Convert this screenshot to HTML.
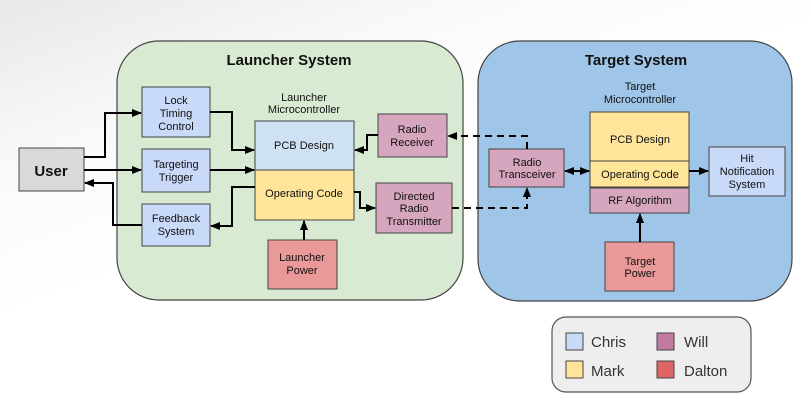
<!DOCTYPE html>
<html><head><meta charset="utf-8"><style>
body{margin:0;width:811px;height:416px;overflow:hidden;background:linear-gradient(160deg,#e8e8e8 0%,#fafafa 25%,#fff 45%);font-family:"Liberation Sans",Arial,sans-serif;}
svg{position:absolute;left:0;top:0}
text{font-family:"Liberation Sans",Arial,sans-serif;fill:#111}
</style></head><body>
<svg width="811" height="416" viewBox="0 0 811 416">
<defs>
<marker id="a" markerWidth="10" markerHeight="10" refX="9" refY="5" orient="auto" markerUnits="userSpaceOnUse"><path d="M0,1 L10,5 L0,9z" fill="#000"/></marker>
<marker id="s" markerWidth="10" markerHeight="10" refX="1" refY="5" orient="auto" markerUnits="userSpaceOnUse"><path d="M10,1 L0,5 L10,9z" fill="#000"/></marker>
</defs>
<rect x="117" y="41" width="346" height="259" rx="42" fill="#d9ead3" stroke="#444" stroke-width="1.2"/>
<rect x="478" y="41" width="314" height="260" rx="42" fill="#9fc5e8" stroke="#444" stroke-width="1.2"/>
<rect x="552" y="317" width="199" height="75" rx="14" fill="#eeeeee" stroke="#555" stroke-width="1.2"/>
<text x="289" y="65" font-size="15" font-weight="bold" text-anchor="middle">Launcher System</text>
<text x="636" y="65" font-size="15" font-weight="bold" text-anchor="middle">Target System</text>
<g stroke="#444" stroke-width="1">
<rect x="19" y="148" width="65" height="43" fill="#d9d9d9"/>
<rect x="142" y="87" width="68" height="50" fill="#c9daf8"/>
<rect x="142" y="149" width="68" height="43" fill="#c9daf8"/>
<rect x="142" y="204" width="68" height="42" fill="#c9daf8"/>
<rect x="255" y="121" width="99" height="49" fill="#cfe2f3"/>
<rect x="255" y="170" width="99" height="50" fill="#ffe599"/>
<rect x="268" y="240" width="69" height="49" fill="#ea9999"/>
<rect x="378" y="114" width="69" height="43" fill="#d5a6bd"/>
<rect x="376" y="183" width="76" height="50" fill="#d5a6bd"/>
<rect x="590" y="112" width="99" height="49" fill="#ffe599"/>
<rect x="590" y="161" width="99" height="26" fill="#ffe599"/>
<rect x="590" y="188" width="99" height="25" fill="#d5a6bd"/>
<rect x="489" y="149" width="75" height="38" fill="#d5a6bd"/>
<rect x="709" y="147" width="76" height="49" fill="#c9daf8"/>
<rect x="605" y="242" width="69" height="49" fill="#ea9999"/>
<rect x="566" y="333" width="17" height="17" fill="#c9daf8"/>
<rect x="566" y="361" width="17" height="17" fill="#ffe599"/>
<rect x="657" y="333" width="17" height="17" fill="#c27ba0"/>
<rect x="657" y="361" width="17" height="17" fill="#e06666"/>
</g>
<g fill="none" stroke="#000" stroke-width="2">
<path d="M84,157 H105 V113 H141" marker-end="url(#a)"/>
<path d="M84,170 H141" marker-end="url(#a)"/>
<path d="M142,225 H113 V183 H85" marker-end="url(#a)"/>
<path d="M210,112 H232 V150 H254" marker-end="url(#a)"/>
<path d="M210,170 H254" marker-end="url(#a)"/>
<path d="M255,187 H232 V226 H211" marker-end="url(#a)"/>
<path d="M378,135 H367 V150 H355" marker-end="url(#a)"/>
<path d="M354,192 H360 V208 H375" marker-end="url(#a)"/>
<path d="M304,240 V221" marker-end="url(#a)"/>
<path d="M565,171 H589" marker-start="url(#s)" marker-end="url(#a)"/>
<path d="M689,171 H708" marker-end="url(#a)"/>
<path d="M640,242 V214" marker-end="url(#a)"/>
<path d="M527,149 V136 H448" stroke-dasharray="7,5" marker-end="url(#a)"/>
<path d="M452,208 H527 V188" stroke-dasharray="7,5" marker-end="url(#a)"/>
</g>
<g font-size="11" text-anchor="middle">
<text x="51" y="176" font-size="15" font-weight="bold">User</text>
<text x="176" y="104">Lock</text><text x="176" y="117">Timing</text><text x="176" y="130">Control</text>
<text x="176" y="168">Targeting</text><text x="176" y="181">Trigger</text>
<text x="176" y="222">Feedback</text><text x="176" y="235">System</text>
<text x="304" y="101">Launcher</text><text x="304" y="113">Microcontroller</text>
<text x="304" y="149">PCB Design</text>
<text x="304" y="197">Operating Code</text>
<text x="302" y="261">Launcher</text><text x="302" y="274">Power</text>
<text x="412" y="133">Radio</text><text x="412" y="146">Receiver</text>
<text x="414" y="200">Directed</text><text x="414" y="212">Radio</text><text x="414" y="225">Transmitter</text>
<text x="640" y="90">Target</text><text x="640" y="103">Microcontroller</text>
<text x="640" y="143">PCB Design</text>
<text x="640" y="178">Operating Code</text>
<text x="640" y="204">RF Algorithm</text>
<text x="527" y="166">Radio</text><text x="527" y="178">Transceiver</text>
<text x="747" y="162">Hit</text><text x="747" y="175">Notification</text><text x="747" y="188">System</text>
<text x="640" y="265">Target</text><text x="640" y="277">Power</text>
</g>
<g font-size="15">
<text x="591" y="347" style="fill:#333">Chris</text>
<text x="591" y="376" style="fill:#333">Mark</text>
<text x="684" y="347" style="fill:#333">Will</text>
<text x="684" y="376" style="fill:#333">Dalton</text>
</g>
</svg>
</body></html>
